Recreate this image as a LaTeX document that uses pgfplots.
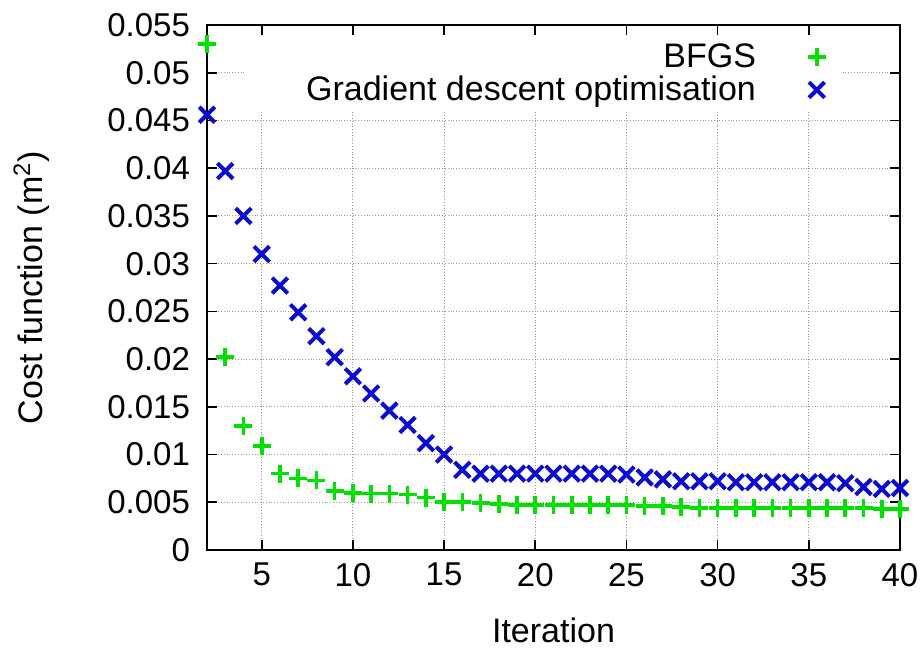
\documentclass[border=0pt]{standalone}
\usepackage{pgfplots}
\pgfplotsset{compat=1.18}
\usepackage{fontspec}
\setmainfont{Liberation Sans}
\definecolor{bfgsgreen}{RGB}{0,225,0}
\definecolor{gdblue}{RGB}{10,10,210}

\begin{document}
\begin{tikzpicture}
\begin{axis}[
    scale only axis,
    width=346.5pt,
    height=262.5pt,
    xmin=2, xmax=40,
    ymin=0, ymax=0.055,
    xtick={5,10,...,40},
    ytick={0,0.005,...,0.055},
    scaled y ticks=false,
    /pgf/number format/fixed,
    /pgf/number format/precision=3,
    /pgf/number format/assume math mode=true,
    font=\fontsize{17}{20}\selectfont,
    tick label style={font=\fontsize{16.5}{19}\selectfont},
    yticklabel style={xshift=-5pt},
    xticklabel style={yshift=-3pt},
    xlabel={Iteration},
    ylabel={Cost function (m\textsuperscript{2})},
    xlabel shift=9pt,
    ylabel shift=22pt,
    grid=major,
    grid style={densely dotted, gray!80, line width=0.5pt},
    major tick length=5pt,
    tick style={black, line width=0.8pt},
    axis line style={line width=0.9pt},
    clip=false,
    legend plot pos=right,
    legend cell align=right,
    legend style={at={(rel axis cs:0.918,0.981)}, anchor=north east, draw=none, fill=white,
        font=\fontsize{17}{20}\selectfont, row sep=-1pt},
    lgd/.style={legend image code/.code={\path[draw=none,fill=none] (0cm,0cm) rectangle (1.35cm,0.01cm);
        \draw[##1] plot coordinates {(1cm,0cm)};}},
]
\addplot[only marks, mark=+, color=bfgsgreen, mark size=4.5pt, line width=1.8pt, lgd] coordinates {
(2,0.0530) (3,0.0202) (4,0.0130) (5,0.0109) (6,0.0080) (7,0.0075) (8,0.0073) (9,0.0062) (10,0.0060)
(11,0.0059) (12,0.0059) (13,0.0058) (14,0.0055) (15,0.0050) (16,0.0050) (17,0.0049) (18,0.0048) (19,0.0047) (20,0.0047)
(21,0.0047) (22,0.0047) (23,0.0047) (24,0.0047) (25,0.0047) (26,0.0046) (27,0.0046) (28,0.0045) (29,0.0044) (30,0.0044)
(31,0.0044) (32,0.0044) (33,0.0044) (34,0.0044) (35,0.0044) (36,0.0044) (37,0.0044) (38,0.0044) (39,0.0043) (40,0.0043)
};
\addlegendentry{\makebox[250pt][r]{BFGS}}
\addplot[only marks, mark=x, color=gdblue, mark size=5.5pt, line width=2pt, lgd] coordinates {
(2,0.0456) (3,0.0397) (4,0.0350) (5,0.0310) (6,0.0277) (7,0.0249) (8,0.0224) (9,0.0202) (10,0.0182)
(11,0.0164) (12,0.0146) (13,0.0131) (14,0.0112) (15,0.0100) (16,0.0084) (17,0.0080) (18,0.0080) (19,0.0080) (20,0.0080)
(21,0.0080) (22,0.0080) (23,0.0080) (24,0.0080) (25,0.0079) (26,0.0076) (27,0.0074) (28,0.0072) (29,0.0072) (30,0.0072)
(31,0.0071) (32,0.0071) (33,0.0071) (34,0.0071) (35,0.0071) (36,0.0071) (37,0.0070) (38,0.0066) (39,0.0064) (40,0.0065)
};
\addlegendentry{\makebox[250pt][r]{Gradient descent optimisation}}
\coordinate (sw) at (rel axis cs:0,0);
\end{axis}
\pgfresetboundingbox
\path (sw) ++(-103.5pt,-50pt) rectangle ++(460pt,325pt);
\end{tikzpicture}
\end{document}
